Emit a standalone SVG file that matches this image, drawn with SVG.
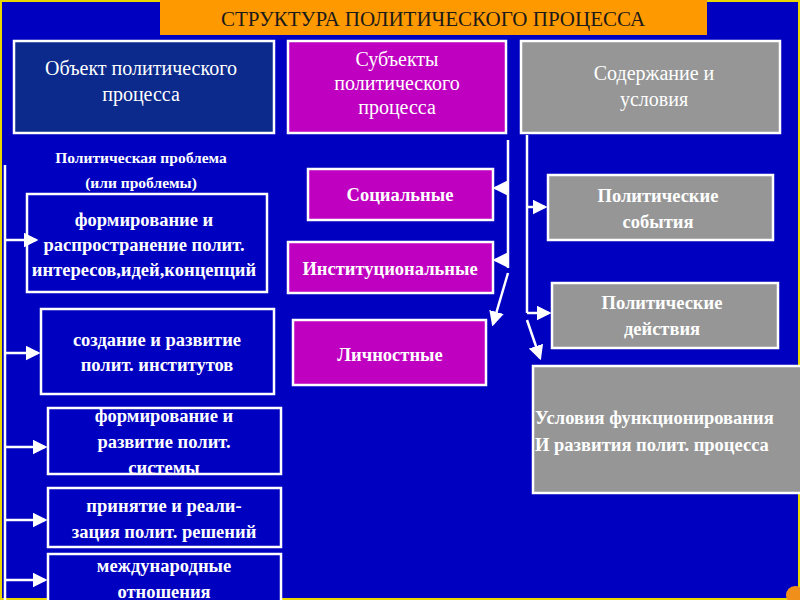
<svg xmlns="http://www.w3.org/2000/svg" width="800" height="600" viewBox="0 0 800 600">
<defs>
<style>
text{font-family:"Liberation Serif","DejaVu Serif",serif;font-weight:bold;fill:#fff;text-anchor:middle;font-size:18.5px}
.h{font-weight:normal;font-size:20px}
.b{stroke:#fff;stroke-width:2.5}
.c{stroke:#fff;stroke-width:2.5;fill:none}
.blue{fill:#0000c0}
.mag{fill:#c000c0}
.gray{fill:#969696}
</style>
<marker id="a" markerWidth="6" markerHeight="6" refX="5" refY="3" orient="auto" markerUnits="strokeWidth"><path d="M0,0 L6,3 L0,6 Z" fill="#fff"/></marker>
</defs>
<rect width="800" height="600" fill="#0000c0"/>
<rect x="1" y="1" width="798" height="598" fill="none" stroke="#e8d800" stroke-width="2"/>
<g id="title"><rect x="160" y="0" width="547" height="35" fill="#ff9900"/><text x="433" y="26" class="h" style="fill:#1a1a1a;font-size:21px">СТРУКТУРА ПОЛИТИЧЕСКОГО ПРОЦЕССА</text></g>
<g id="obj"><rect x="14" y="41" width="260" height="92" fill="#0b2a8c" class="b"/><text x="141" y="75" class="h">Объект политического</text><text x="141" y="101" class="h">процесса</text></g>
<g id="subj"><rect x="288" y="41" width="218" height="92" class="b mag"/><text x="397" y="66" class="h">Субъекты</text><text x="397" y="90" class="h">политического</text><text x="397" y="114" class="h">процесса</text></g>
<g id="cont"><rect x="521" y="41" width="259" height="92" class="b gray"/><text x="654" y="80" class="h">Содержание и</text><text x="654" y="106" class="h">условия</text></g>
<g id="problem"><text x="141" y="163" style="font-size:15.5px">Политическая проблема</text><text x="141" y="188" style="font-size:15.5px">(или проблемы)</text></g>
<g id="n1"><rect x="27" y="194" width="240" height="98" class="b blue"/><text x="144" y="226">формирование и</text><text x="144" y="251">распространение полит.</text><text x="144" y="276">интересов,идей,концепций</text></g>
<g id="n2"><rect x="41" y="309" width="233" height="85" class="b blue"/><text x="157" y="346">создание и развитие</text><text x="157" y="371">полит. институтов</text></g>
<g id="n3"><rect x="48" y="408" width="233" height="66" class="b blue"/><text x="164" y="422">формирование и</text><text x="164" y="448">развитие полит.</text><text x="164" y="474">системы</text></g>
<g id="n4"><rect x="48" y="488" width="233" height="59" class="b blue"/><text x="164" y="512">принятие и реали-</text><text x="164" y="538">зация полит. решений</text></g>
<g id="n5"><rect x="48" y="554" width="233" height="50" class="b blue"/><text x="164" y="572">международные</text><text x="164" y="598">отношения</text></g>
<g id="soc"><rect x="308" y="169" width="185" height="51" class="b mag"/><text x="400" y="201">Социальные</text></g>
<g id="inst"><rect x="288" y="242" width="205" height="51" class="b mag"/><text x="390" y="275">Институциональные</text></g>
<g id="pers"><rect x="293" y="320" width="193" height="65" class="b mag"/><text x="390" y="361">Личностные</text></g>
<g id="ev"><rect x="548" y="175" width="225" height="65" class="b gray"/><text x="658" y="202">Политические</text><text x="658" y="228">события</text></g>
<g id="act"><rect x="552" y="283" width="226" height="65" class="b gray"/><text x="662" y="309">Политические</text><text x="662" y="335">действия</text></g>
<g id="cond"><rect x="533" y="366" width="275" height="127" class="b gray"/><text x="535" y="424" style="text-anchor:start">Условия функционирования</text><text x="535" y="451" style="text-anchor:start">И развития полит. процесса</text></g>
<circle cx="795" cy="595" r="9" fill="#f0901a"/>
<g id="connectors">
<path class="c" d="M5,165 V600"/>
<path class="c" marker-end="url(#a)" d="M5,240 H36"/>
<path class="c" marker-end="url(#a)" d="M5,353 H38"/>
<path class="c" marker-end="url(#a)" d="M5,447 H45"/>
<path class="c" marker-end="url(#a)" d="M5,520 H45"/>
<path class="c" marker-end="url(#a)" d="M5,580 H45"/>
<path class="c" d="M508,140 V268"/>
<path class="c" marker-end="url(#a)" d="M508,188 H495"/>
<path class="c" marker-end="url(#a)" d="M508,260 H495"/>
<path class="c" marker-end="url(#a)" d="M508,273 L493,324"/>
<path class="c" d="M527,135 V313"/>
<path class="c" marker-end="url(#a)" d="M527,207 H545"/>
<path class="c" marker-end="url(#a)" d="M527,313 H549"/>
<path class="c" marker-end="url(#a)" d="M527,320 L540,358"/>
</g>
</svg>
